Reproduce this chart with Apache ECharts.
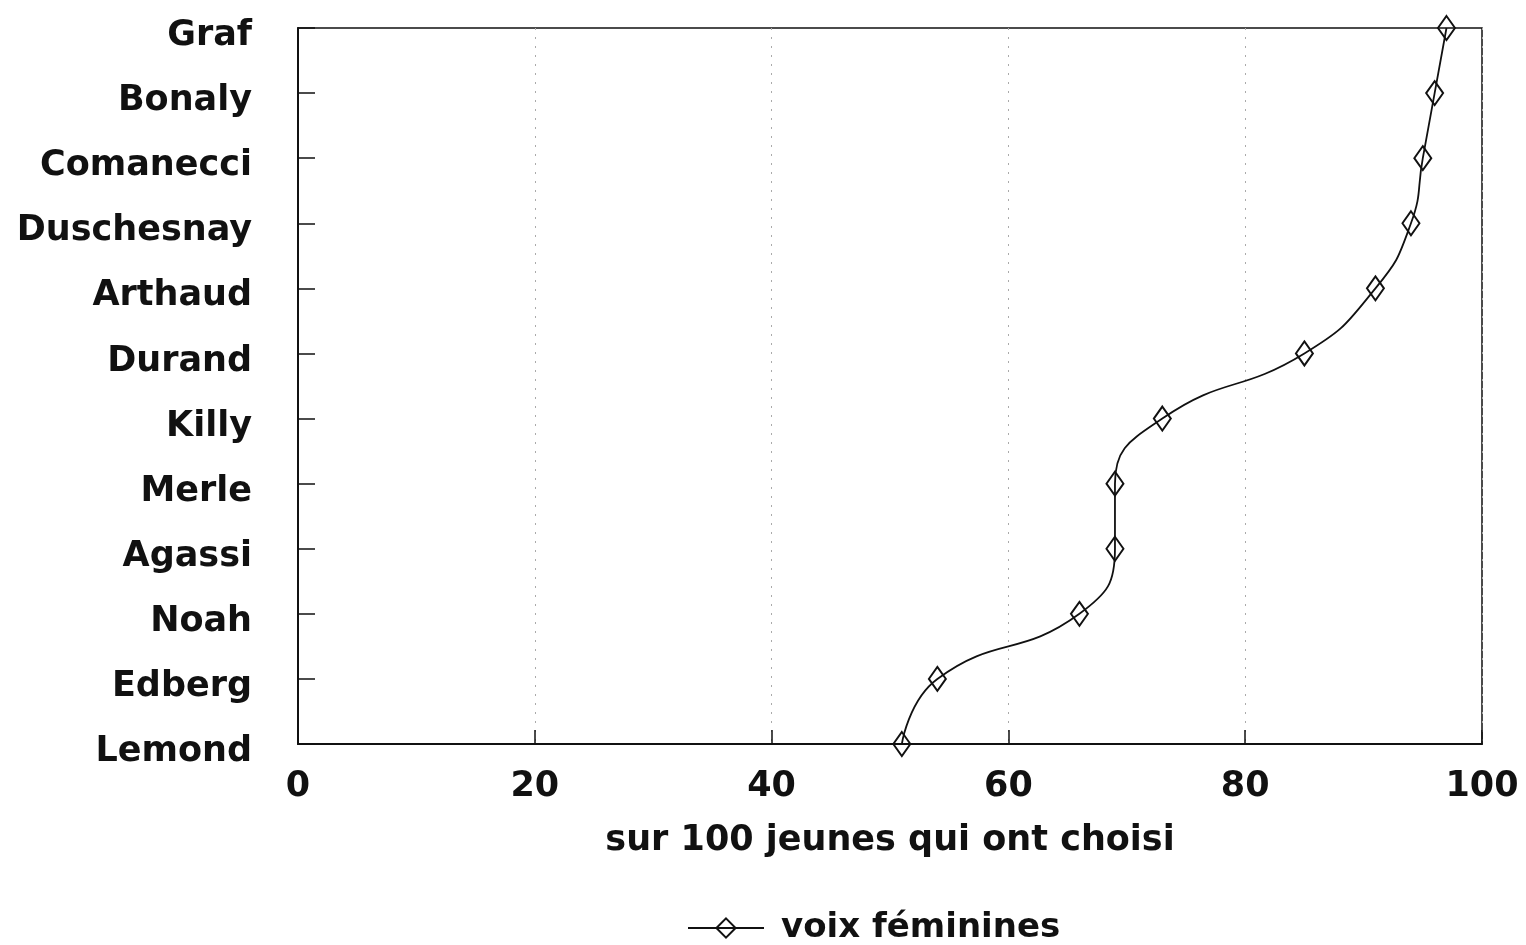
<!DOCTYPE html>
<html>
<head>
<meta charset="utf-8">
<script src="https://cdn.jsdelivr.net/npm/echarts@6/dist/echarts.min.js"></script>
<style>
html,body{margin:0;padding:0;background:#fff;}
#chart{width:1526px;height:945px;}
</style>
</head>
<body>
<div id="chart"></div>
<script>
const categories = ['Lemond','Edberg','Noah','Agassi','Merle','Killy','Durand','Arthaud','Duschesnay','Comanecci','Bonaly','Graf'];
const voixFeminines = [51, 54, 66, 69, 69, 73, 85, 91, 94, 95, 96, 97];
const seriesName = 'voix féminines';
const xAxisTitle = 'sur 100 jeunes qui ont choisi';

const FONT = 'DejaVu Sans';
const chart = echarts.init(document.getElementById('chart'), null, {renderer:'canvas'});
chart.setOption({
  animation: false,
  backgroundColor: '#fff',
  grid: {left: 298, right: 44, top: 28, bottom: 201, show: true, borderColor: '#111', borderWidth: 1.5, containLabel: false},
  legend: {
    data: [seriesName], top: 906, left: 682,
    itemWidth: 76, itemHeight: 24, itemGap: 10,
    textStyle: {fontFamily: FONT, fontWeight: 'bold', fontSize: 34, color: '#111', padding: [0, 0, 0, 12]}
  },
  xAxis: {
    type: 'value', min: 0, max: 100, interval: 20,
    name: xAxisTitle, nameLocation: 'middle', nameGap: 79,
    nameTextStyle: {fontFamily: FONT, fontWeight: 'bold', fontSize: 35, color: '#111'},
    axisLine: {show: true, lineStyle: {color: '#111', width: 2}},
    axisTick: {show: true, inside: true, length: 14, lineStyle: {color: '#111', width: 1.5}},
    axisLabel: {fontFamily: FONT, fontWeight: 'bold', fontSize: 35, color: '#111', margin: 25},
    splitLine: {show: true, lineStyle: {color: '#aaa', width: 1, type: [2, 7]}}
  },
  yAxis: {
    type: 'category', data: categories, boundaryGap: false,
    axisLine: {show: true, lineStyle: {color: '#111', width: 2}},
    axisTick: {show: true, inside: true, length: 17, lineStyle: {color: '#111', width: 1.5}},
    axisLabel: {
      margin: 46,
      formatter: function (v) { return '{a|' + v + '}'; },
      rich: {a: {fontFamily: FONT, fontWeight: 'bold', fontSize: 35, color: '#111', padding: [16, 0, 0, 0]}}
    },
    splitLine: {show: false}
  },
  series: [{
    name: seriesName, type: 'line', data: voixFeminines, smooth: true,
    symbol: 'diamond', symbolSize: [17, 24],
    lineStyle: {color: '#111', width: 1.8},
    itemStyle: {color: 'rgba(255,255,255,0)', borderColor: '#111', borderWidth: 2}
  }]
});
</script>
</body>
</html>
